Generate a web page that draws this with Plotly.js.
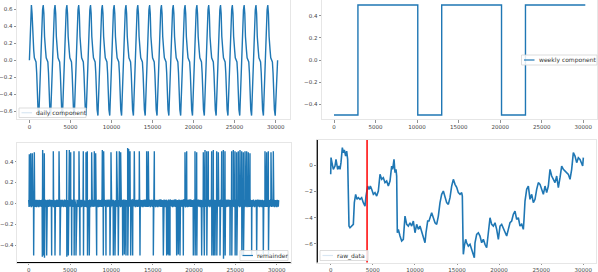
<!DOCTYPE html>
<html><head><meta charset="utf-8">
<script src="https://cdn.plot.ly/plotly-3.0.1.min.js"></script>
<style>html,body{margin:0;padding:0;background:#fff;} #chart{width:598px;height:272px;}</style>
</head><body><div id="chart"></div>
<script>
// ---------------- data ----------------
const xTickVals = [0, 5000, 10000, 15000, 20000, 25000, 30000];
const seriesLength = 30240;

// daily component: one day's profile (minute-of-day, value); 21 days shown
const nDays = 21;
const dayLength = 1440;
const dailyProfileT = [0, 81, 161, 242, 323, 403, 444, 524, 605, 686, 807, 887, 968, 1049, 1150, 1210, 1291, 1371];
const dailyProfileV = [0.0, 0.32, 0.59, 0.65, 0.55, 0.28, 0.16, 0.12, 0.03, 0.0, -0.02, -0.15, -0.39, -0.58, -0.65, -0.47, -0.2, -0.08];

// weekly component (step)
const weeklyX = [0, 2880, 2880, 10080, 10080, 12960, 12960, 20160, 20160, 23040, 23040, 30240];
const weeklyY = [-0.5, -0.5, 0.5, 0.5, -0.5, -0.5, 0.5, 0.5, -0.5, -0.5, 0.5, 0.5];

// remainder: small noise band + spikes
const remainderStep = 45;
const remainderNoise = [0.032, -0.034, 0.028, -0.03, 0.036, -0.027, 0.033, -0.036, 0.026, -0.031, 0.035, -0.029, 0.03, -0.035, 0.034, -0.026, 0.037, -0.033, 0.027, -0.03, 0.034, -0.036, 0.029, -0.028, 0.033, -0.032, 0.025, -0.037, 0.035, -0.029, 0.028, -0.033, 0.031, -0.027, 0.032, -0.035, 0.036, -0.03, 0.027, -0.034];
const spikeUpX = [76, 237, 439, 681, 1689, 1891, 2979, 3670, 4592, 4915, 5076, 5479, 6084, 6608, 6931, 7092, 7616, 7939, 8100, 8906, 9068, 9955, 10640, 10963, 11124, 11971, 12091, 12253, 12777, 13382, 14269, 14470, 15198, 18907, 19109, 20117, 20319, 21125, 21327, 21528, 21730, 22133, 22335, 22738, 22940, 23343, 23545, 23746, 24552, 24754, 24955, 25157, 25359, 25560, 25762, 25963, 26165, 26367, 26568, 26770, 28584, 28786, 28987, 29310, 29592];
const spikeUpV = [0.47, 0.48, 0.48, 0.49, 0.51, 0.48, 0.5, 0.5, 0.51, 0.51, 0.49, 0.5, 0.5, 0.5, 0.49, 0.5, 0.49, 0.5, 0.48, 0.51, 0.5, 0.49, 0.5, 0.5, 0.49, 0.53, 0.52, 0.5, 0.5, 0.5, 0.5, 0.5, 0.5, 0.49, 0.5, 0.5, 0.49, 0.49, 0.51, 0.5, 0.5, 0.5, 0.51, 0.5, 0.49, 0.5, 0.51, 0.5, 0.5, 0.51, 0.5, 0.49, 0.5, 0.51, 0.5, 0.49, 0.5, 0.5, 0.49, 0.48, 0.5, 0.49, 0.5, 0.49, 0.5];
const spikeDownX = [600, 1649, 1770, 1911, 2173, 2778, 3181, 3786, 4612, 4794, 5197, 5499, 5721, 6205, 6628, 7112, 7334, 8221, 9027, 9350, 9834, 10237, 10438, 10842, 11366, 11568, 11769, 11991, 12334, 12576, 13463, 15077, 16287, 16690, 16811, 16972, 17093, 17899, 18101, 18303, 18706, 19915, 20137, 20339, 20923, 21246, 21548, 22153, 22355, 22536, 22758, 23141, 23565, 23766, 24351, 24572, 24975, 25177, 25782, 25983, 26971, 27576, 28382, 29007];
const spikeDownV = [-0.5, -0.51, -0.5, -0.52, -0.5, -0.5, -0.5, -0.5, -0.51, -0.5, -0.5, -0.5, -0.5, -0.5, -0.5, -0.5, -0.5, -0.5, -0.5, -0.5, -0.5, -0.5, -0.5, -0.5, -0.5, -0.49, -0.5, -0.5, -0.5, -0.5, -0.5, -0.5, -0.5, -0.5, -0.49, -0.5, -0.5, -0.5, -0.49, -0.5, -0.5, -0.5, -0.5, -0.5, -0.5, -0.5, -0.5, -0.5, -0.5, -0.5, -0.5, -0.5, -0.53, -0.5, -0.5, -0.5, -0.5, -0.5, -0.5, -0.5, -0.5, -0.5, -0.5, -0.5];

// raw data
const rawX = [0, 40, 115, 313, 511, 630, 827, 986, 1105, 1223, 1382, 1500, 1619, 1778, 1896, 2015, 2094, 2173, 2292, 2490, 2688, 2807, 2965, 3124, 3282, 3480, 3678, 3876, 4074, 4193, 4391, 4549, 4707, 4866, 5064, 5262, 5460, 5657, 5855, 6053, 6251, 6449, 6647, 6845, 7043, 7241, 7360, 7518, 7637, 7756, 7835, 7914, 8033, 8231, 8429, 8627, 8825, 9023, 9221, 9418, 9616, 9814, 10012, 10210, 10408, 10606, 10804, 11002, 11200, 11319, 11517, 11675, 11833, 11992, 12190, 12388, 12586, 12784, 12982, 13180, 13378, 13575, 13773, 13971, 14169, 14367, 14565, 14763, 14961, 15159, 15357, 15555, 15634, 15713, 15753, 15872, 16030, 16149, 16347, 16545, 16743, 16940, 17059, 17138, 17336, 17534, 17732, 17930, 18128, 18326, 18524, 18722, 18920, 19118, 19316, 19514, 19712, 19910, 20108, 20306, 20504, 20702, 20900, 21097, 21295, 21493, 21691, 21889, 22087, 22285, 22483, 22681, 22879, 22958, 23077, 23275, 23473, 23671, 23869, 24067, 24265, 24463, 24661, 24858, 25056, 25254, 25452, 25650, 25848, 26046, 26244, 26442, 26640, 26838, 27036, 27234, 27432, 27630, 27828, 28026, 28224, 28422, 28620, 28817, 29015, 29213, 29411, 29610, 29807, 29926, 30005];
const rawY = [-0.71, 0.56, 0.30, -0.33, -0.08, 0.43, -0.33, -0.08, -0.33, 0.18, 1.32, 0.94, 1.14, 0.68, 1.06, 0.43, -4.39, -4.64, -4.77, -4.64, -4.51, -2.86, -2.23, -2.61, -2.48, -2.61, -2.48, -2.86, -3.12, -2.36, -1.60, -1.85, -1.60, -1.85, -2.23, -2.10, -2.36, -1.98, -0.71, -1.09, -0.96, -1.34, -1.22, -1.60, -1.22, -0.08, -0.33, 0.43, -0.58, -0.33, -0.84, -5.15, -4.89, -5.40, -5.78, -5.65, -3.88, -4.51, -4.64, -4.39, -4.64, -4.26, -5.15, -4.51, -4.89, -4.64, -5.02, -5.40, -5.91, -5.15, -4.26, -4.26, -4.01, -3.62, -4.01, -4.39, -4.51, -3.88, -2.86, -2.23, -1.98, -2.48, -2.86, -2.99, -2.48, -1.60, -1.09, -1.47, -1.70, -2.10, -2.23, -2.10, -2.36, -5.65, -6.79, -6.16, -5.65, -5.91, -6.16, -6.03, -6.41, -6.79, -7.05, -5.91, -5.27, -5.15, -5.40, -5.91, -5.65, -6.03, -6.29, -5.15, -4.01, -4.51, -4.64, -4.39, -4.89, -5.65, -4.64, -4.51, -4.77, -5.15, -5.40, -4.89, -4.39, -4.26, -3.75, -3.50, -4.13, -4.01, -4.64, -4.51, -4.89, -4.13, -2.74, -1.85, -1.60, -2.61, -2.23, -2.86, -2.61, -1.85, -1.34, -1.47, -1.85, -2.23, -1.60, -2.10, -1.60, -0.33, -0.84, -1.09, -1.34, -0.84, -1.72, -0.96, -0.08, -0.33, -0.46, -0.58, -0.71, -1.09, -0.33, 0.94, 0.68, 0.18, 0.56, 0.43, 0.05, -0.08, 0.56];
const changePointX = 4320;

const legendLabels = ['daily component', 'weekly component', 'remainder', 'raw_data'];
const yTicks1 = [-0.6, -0.4, -0.2, 0.0, 0.2, 0.4, 0.6];
const yTicks2 = [-0.4, -0.2, 0.0, 0.2, 0.4];
const yTicks3 = [-0.4, -0.2, 0.0, 0.2, 0.4];
const yTicks4 = [-6, -4, -2, 0];

// ---------------- build series ----------------
const dailyX = [], dailyY = [];
for (let d = 0; d < nDays; d++) {
  for (let i = 0; i < dailyProfileT.length; i++) {
    dailyX.push(d * dayLength + dailyProfileT[i]);
    dailyY.push(dailyProfileV[i]);
  }
}
dailyX.push(nDays * dayLength); dailyY.push(dailyProfileV[0]);

const remPts = [];
for (let t = 0, k = 0; t <= seriesLength; t += remainderStep, k++) {
  remPts.push([t, remainderNoise[k % remainderNoise.length]]);
}
spikeUpX.forEach((x, i) => remPts.push([x, spikeUpV[i]]));
spikeDownX.forEach((x, i) => remPts.push([x, spikeDownV[i]]));
remPts.sort((a, b) => a[0] - b[0]);
const remX = remPts.map(p => p[0]), remY = remPts.map(p => p[1]);

// ---------------- layout ----------------
const W = 598, H = 272;
const px = x => x / W, py = y => 1 - y / H;
const blue = '#1f77b4', pale = '#d9e7f3';
const tickFont = {family: 'DejaVu Sans', size: 5.5, color: '#444'};

function axis(extra) {
  return Object.assign({
    showgrid: false, zeroline: false, showline: true, mirror: true,
    linecolor: '#e6e6e6', linewidth: 1, ticks: 'outside', ticklen: 2.5,
    tickwidth: 0.8, tickcolor: '#777', tickfont: tickFont, fixedrange: true
  }, extra);
}
const xCommon = {tickvals: xTickVals, tickformat: 'd'};

const lw = 1.4;
const traces = [
  {x: dailyX, y: dailyY, xaxis: 'x', yaxis: 'y', type: 'scatter', mode: 'lines', line: {color: blue, width: lw}, name: legendLabels[0], showlegend: false},
  {x: weeklyX, y: weeklyY, xaxis: 'x2', yaxis: 'y2', type: 'scatter', mode: 'lines', line: {color: blue, width: lw}, name: legendLabels[1], showlegend: false},
  {x: remX, y: remY, xaxis: 'x3', yaxis: 'y3', type: 'scatter', mode: 'lines', line: {color: blue, width: lw}, name: legendLabels[2], showlegend: false},
  {x: rawX, y: rawY, xaxis: 'x4', yaxis: 'y4', type: 'scatter', mode: 'lines', line: {color: blue, width: 1.6}, name: legendLabels[3], showlegend: false}
];

const shapes = [], annotations = [];
function legend(x0, y0, x1, y1, handleColor, text) {
  const ym = (y0 + y1) / 2;
  shapes.push({type: 'rect', xref: 'paper', yref: 'paper', x0: px(x0), x1: px(x1), y0: py(y1), y1: py(y0), line: {color: '#d4d4d4', width: 0.8}, fillcolor: 'rgba(255,255,255,0.85)', layer: 'above'});
  shapes.push({type: 'line', xref: 'paper', yref: 'paper', x0: px(x0 + 2.5), x1: px(x0 + 13), y0: py(ym), y1: py(ym), line: {color: handleColor, width: 1.2}, layer: 'above'});
  annotations.push({xref: 'paper', yref: 'paper', x: px(x0 + 15), y: py(ym), xanchor: 'left', yanchor: 'middle', text: text, showarrow: false, font: {family: 'DejaVu Sans', size: 6, color: '#333'}});
}
// black spines
shapes.push({type: 'line', xref: 'x3 domain', yref: 'y3 domain', x0: 0, x1: 1, y0: 0, y1: 0, line: {color: '#000', width: 1.2}, layer: 'above'});
shapes.push({type: 'line', xref: 'x4 domain', yref: 'y4 domain', x0: 0, x1: 0, y0: 0, y1: 1, line: {color: '#000', width: 1.2}, layer: 'above'});
// change point
shapes.push({type: 'line', xref: 'x4', yref: 'y4 domain', x0: changePointX, x1: changePointX, y0: 0, y1: 1, line: {color: '#ff0000', width: 1.5}, layer: 'above'});

legend(19, 108, 86, 117.5, pale, legendLabels[0]);
legend(521.5, 55, 597, 65, blue, legendLabels[1]);
legend(240, 250.5, 288, 260.5, blue, legendLabels[2]);
legend(320, 250.5, 368, 260.5, pale, legendLabels[3]);

const bottomAxisY = 262.5;
const layout = {
  width: W, height: H,
  margin: {l: 0, r: 0, t: 0, b: 0, pad: 0},
  paper_bgcolor: '#fff', plot_bgcolor: '#fff',
  showlegend: false,
  xaxis: axis(Object.assign({domain: [px(17), px(290)], range: [-1512, 31751], anchor: 'y'}, xCommon)),
  yaxis: axis({domain: [py(119), 1], range: [-0.69, 0.709], tickvals: yTicks1, tickformat: '.1f', anchor: 'x'}),
  xaxis2: axis(Object.assign({domain: [px(322), px(596.7)], range: [-1444, 31612], anchor: 'y2'}, xCommon)),
  yaxis2: axis({domain: [py(119), 1], range: [-0.536, 0.545], tickvals: yTicks2, tickformat: '.1f', anchor: 'x2'}),
  xaxis3: axis(Object.assign({domain: [px(17), px(290.7)], range: [-1415, 31694], anchor: 'y3', ticklen: 1.5}, xCommon)),
  yaxis3: axis({domain: [py(bottomAxisY), py(143)], range: [-0.566, 0.578], tickvals: yTicks3, tickformat: '.1f', anchor: 'x3', ticklen: 1.5}),
  xaxis4: axis(Object.assign({domain: [px(317.3), px(596)], range: [-1591, 31508], anchor: 'y4', ticklen: 1.5}, xCommon)),
  yaxis4: axis({domain: [py(bottomAxisY), py(140)], range: [-7.41, 1.90], tickvals: yTicks4, tickformat: 'd', anchor: 'x4'}),
  shapes: shapes,
  annotations: annotations
};

Plotly.newPlot('chart', traces, layout, {staticPlot: true, displayModeBar: false});
</script>
</body></html>
